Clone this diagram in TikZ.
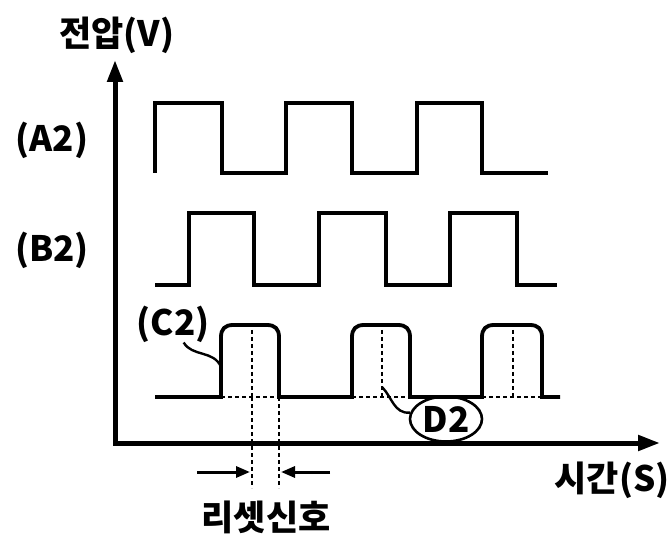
\documentclass[tikz,border=0pt]{standalone}
\usepackage{fontspec}
\setmainfont{Noto Sans CJK KR}
\usetikzlibrary{arrows.meta,shapes.geometric}

\begin{document}
\begin{tikzpicture}[x=1pt, y=-1pt, line join=miter,
  wave/.style={line width=3.8pt},
  axis/.style={line width=5pt, {Triangle[length=22pt,width=15pt]}-{Triangle[length=22pt,width=15pt]}},
  guide/.style={line width=1.4pt, dash pattern=on 4pt off 3pt},
  lead/.style={line width=2.4pt},
  dim/.style={line width=3pt, -{Triangle[length=14pt,width=11pt]}},
  lbl/.style={font=\fontsize{35}{35}\selectfont\bfseries, inner sep=0pt}]

\useasboundingbox (0,0) rectangle (670,548);

% axes, corner at the origin
\coordinate (O) at (115,443);
\coordinate (Ytip) at (115,60);
\coordinate (Xtip) at (660,443);
\draw[axis] (Ytip) -- (O) -- (Xtip);

\node[lbl] (ylab) at (117,35) {전압(V)};
\node[lbl] (xlab) at (612,480) {시간(S)};

% (A2) and (B2): plain square waves
\node[lbl] (A2) at (52,140) {(A2)};
\node[lbl] (B2) at (52,250) {(B2)};

\draw[wave] (155,173) -- (155,103) -- (222,103) -- (222,173) -- (286,173)
  -- (286,103) -- (352,103) -- (352,173) -- (417,173) -- (417,103)
  -- (482,103) -- (482,173) -- (548,173);

\draw[wave] (155,285) -- (189,285) -- (189,213) -- (254,213) -- (254,285)
  -- (319,285) -- (319,213) -- (386,213) -- (386,285) -- (450,285)
  -- (450,213) -- (517,213) -- (517,285) -- (557,285);

% (C2): pulses with rounded tops
\draw[wave] (155,397)
  \foreach \r/\f in {221/279, 352/410, 482/542}{
    -- (\r,397) -- (\r,337) .. controls (\r,329) and (\r+4,325) .. (\r+12,325)
    -- (\f-12,325) .. controls (\f-4,325) and (\f,329) .. (\f,337) -- (\f,397)
  } -- (560,397);

% dashed guides inside the pulses
\foreach \r/\f/\m in {221/279/252, 352/410/382, 482/542/513}{
  \draw[guide] (\r,397) -- (\f,397);
  \draw[guide] (\m,330) -- (\m,397);
}
\draw[guide] (252,397) -- (252,488);
\draw[guide] (279,397) -- (279,488);

% reset width arrows
\coordinate (rl0) at (197,472);
\coordinate (rl1) at (250,472);
\coordinate (rr0) at (330,472);
\coordinate (rr1) at (281,472);
\draw[dim] (rl0) -- (rl1);
\draw[dim] (rr0) -- (rr1);
\node[lbl] (reset) at (266,517) {리셋신호};

% labels with leaders
\node[lbl] (C2) at (173,324) {(C2)};
\coordinate (c2edge) at (221,367);
\draw[lead] (C2.-60) .. controls (192,357) and (214,350) .. (c2edge);

\node[lbl, draw, ellipse, line width=2.6pt, minimum width=72pt, minimum height=45pt] (D2) at (446,419) {D2};
\coordinate (d2root) at (382,387);
\draw[lead] (d2root) .. controls (392,397) and (394,414) .. (D2.170);

\end{tikzpicture}
\end{document}
